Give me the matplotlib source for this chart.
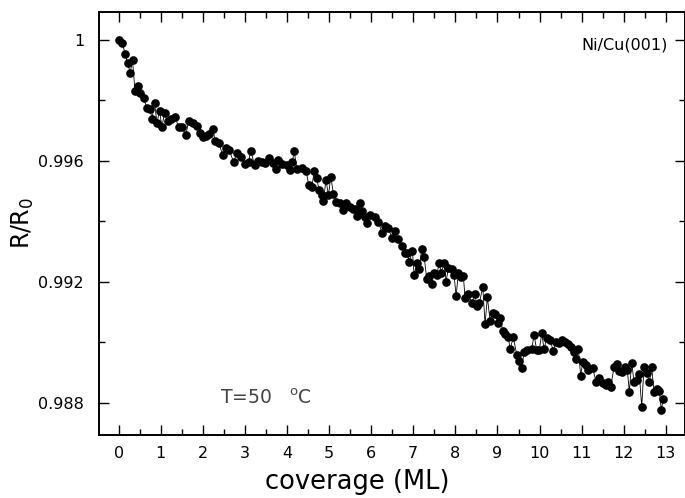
import matplotlib
matplotlib.use('Agg')
import matplotlib.pyplot as plt
import numpy as np
from matplotlib.ticker import MultipleLocator

# Ni on Cu(001): normalized resistance vs. deposited coverage
coverage = [
    0.000, 0.080, 0.154, 0.209, 0.273, 0.328, 0.385, 0.447, 0.511, 0.589,
    0.670, 0.748, 0.789, 0.850, 0.907, 0.969, 1.026, 1.088, 1.159, 1.247,
    1.342, 1.420, 1.501, 1.596, 1.658, 1.762, 1.857, 1.919, 2.014, 2.078,
    2.150, 2.238, 2.292, 2.371, 2.475, 2.542, 2.625, 2.727, 2.808, 2.898,
    2.993, 3.088, 3.135, 3.230, 3.321, 3.401, 3.480, 3.575, 3.677, 3.729,
    3.796, 3.876, 3.995, 4.074, 4.128, 4.169, 4.233, 4.352, 4.454, 4.513,
    4.589, 4.644, 4.708, 4.758, 4.827, 4.865, 4.924, 4.983, 5.040, 5.102,
    5.173, 5.252, 5.340, 5.399, 5.489, 5.563, 5.629, 5.672, 5.736, 5.777,
    5.855, 5.910, 5.974, 6.093, 6.171, 6.252, 6.330, 6.409, 6.489, 6.568,
    6.646, 6.727, 6.793, 6.860, 6.907, 6.979, 7.019, 7.083, 7.138, 7.202,
    7.257, 7.321, 7.382, 7.439, 7.494, 7.558, 7.613, 7.667, 7.732, 7.779,
    7.834, 7.914, 7.969, 8.017, 8.071, 8.128, 8.190, 8.230, 8.309, 8.390,
    8.468, 8.508, 8.570, 8.651, 8.705, 8.760, 8.824, 8.888, 8.943, 9.021,
    9.062, 9.126, 9.181, 9.259, 9.299, 9.378, 9.458, 9.520, 9.577, 9.632,
    9.710, 9.815, 9.869, 9.933, 9.995, 10.052, 10.107, 10.171, 10.249, 10.328,
    10.392, 10.470, 10.527, 10.606, 10.684, 10.741, 10.819, 10.867, 10.922, 10.979,
    11.026, 11.105, 11.159, 11.264, 11.342, 11.420, 11.501, 11.580, 11.634, 11.691,
    11.770, 11.834, 11.895, 11.952, 12.031, 12.086, 12.133, 12.190, 12.245, 12.323,
    12.371, 12.428, 12.482, 12.546, 12.608, 12.665, 12.720, 12.784, 12.846, 12.893,
    12.940,
]

r_ratio = [
    1.00000, 0.99991, 0.99954, 0.99923, 0.99892, 0.99934, 0.99832, 0.99848, 0.99826, 0.99807,
    0.99775, 0.99771, 0.99738, 0.99793, 0.99726, 0.99766, 0.99713, 0.99759, 0.99732, 0.99739,
    0.99746, 0.99711, 0.99713, 0.99685, 0.99732, 0.99726, 0.99715, 0.99691, 0.99678, 0.99682,
    0.99689, 0.99705, 0.99666, 0.99659, 0.99620, 0.99642, 0.99636, 0.99597, 0.99625, 0.99614,
    0.99591, 0.99597, 0.99634, 0.99586, 0.99601, 0.99597, 0.99592, 0.99609, 0.99592, 0.99573,
    0.99603, 0.99590, 0.99586, 0.99570, 0.99597, 0.99633, 0.99572, 0.99578, 0.99568, 0.99520,
    0.99514, 0.99565, 0.99542, 0.99504, 0.99487, 0.99468, 0.99537, 0.99487, 0.99548, 0.99491,
    0.99465, 0.99461, 0.99438, 0.99461, 0.99446, 0.99442, 0.99441, 0.99418, 0.99462, 0.99434,
    0.99414, 0.99394, 0.99421, 0.99414, 0.99399, 0.99363, 0.99385, 0.99377, 0.99345, 0.99368,
    0.99340, 0.99318, 0.99295, 0.99296, 0.99267, 0.99303, 0.99222, 0.99262, 0.99242, 0.99309,
    0.99283, 0.99208, 0.99219, 0.99193, 0.99230, 0.99222, 0.99261, 0.99230, 0.99261, 0.99200,
    0.99247, 0.99241, 0.99222, 0.99153, 0.99230, 0.99217, 0.99219, 0.99145, 0.99160, 0.99129,
    0.99160, 0.99120, 0.99129, 0.99184, 0.99060, 0.99149, 0.99071, 0.99098, 0.99093, 0.99063,
    0.99079, 0.99038, 0.99027, 0.99016, 0.98977, 0.99016, 0.98958, 0.98939, 0.98916, 0.98969,
    0.98974, 0.98977, 0.99024, 0.98974, 0.98974, 0.99030, 0.98977, 0.99014, 0.99006, 0.98972,
    0.99002, 0.98999, 0.99007, 0.99002, 0.98994, 0.98985, 0.98969, 0.98944, 0.98977, 0.98888,
    0.98936, 0.98925, 0.98908, 0.98914, 0.98869, 0.98881, 0.98864, 0.98859, 0.98869, 0.98851,
    0.98919, 0.98928, 0.98906, 0.98903, 0.98919, 0.98908, 0.98836, 0.98932, 0.98869, 0.98875,
    0.98895, 0.98785, 0.98917, 0.98897, 0.98869, 0.98917, 0.98836, 0.98844, 0.98840, 0.98776,
    0.98811,
]

x_ticks = list(range(0, 14))
y_ticks = [0.988, 0.992, 0.996, 1.0]
y_ticklabels = ['0.988', '0.992', '0.996', '1']

plt.rcParams['font.family'] = 'DejaVu Sans'
plt.rcParams['mathtext.default'] = 'regular'

fig = plt.figure(figsize=(6.85, 4.98), dpi=100)
ax = fig.add_axes([0.1451, 0.1265, 0.8545, 0.85])

ax.plot(coverage, r_ratio, color='black', linewidth=0.6,
        marker='o', markersize=5.2, markerfacecolor='black',
        markeredgecolor='black')

ax.set_xlim(-0.46, 13.45)
ax.set_ylim(0.98693, 1.000936)

ax.set_xticks(x_ticks)
ax.xaxis.set_minor_locator(MultipleLocator(0.5))
ax.set_yticks(y_ticks)
ax.set_yticklabels(y_ticklabels)
ax.yaxis.set_minor_locator(MultipleLocator(0.002))

ax.tick_params(which='both', direction='in', top=True, right=True,
               width=1.0, labelsize=11.5)
ax.tick_params(which='major', length=7)
ax.tick_params(which='minor', length=4)
ax.tick_params(axis='x', pad=8)
ax.tick_params(axis='y', pad=11)
for s in ax.spines.values():
    s.set_linewidth(1.4)

ax.set_xlabel('coverage (ML)', fontsize=18.5)
ax.xaxis.set_label_coords(0.44, -0.08)
ax.set_ylabel('R/R$_0$', fontsize=17)
ax.yaxis.set_label_coords(-0.108, 0.5)

ax.text(0.971, 0.921, 'Ni/Cu(001)', transform=ax.transAxes,
        ha='right', va='center', fontsize=11.5)
ax.text(0.206, 0.087, 'T=50   $^{o}$C', transform=ax.transAxes,
        ha='left', va='center', fontsize=13.5, color='#444444')

fig.savefig('out.png', dpi=100)
